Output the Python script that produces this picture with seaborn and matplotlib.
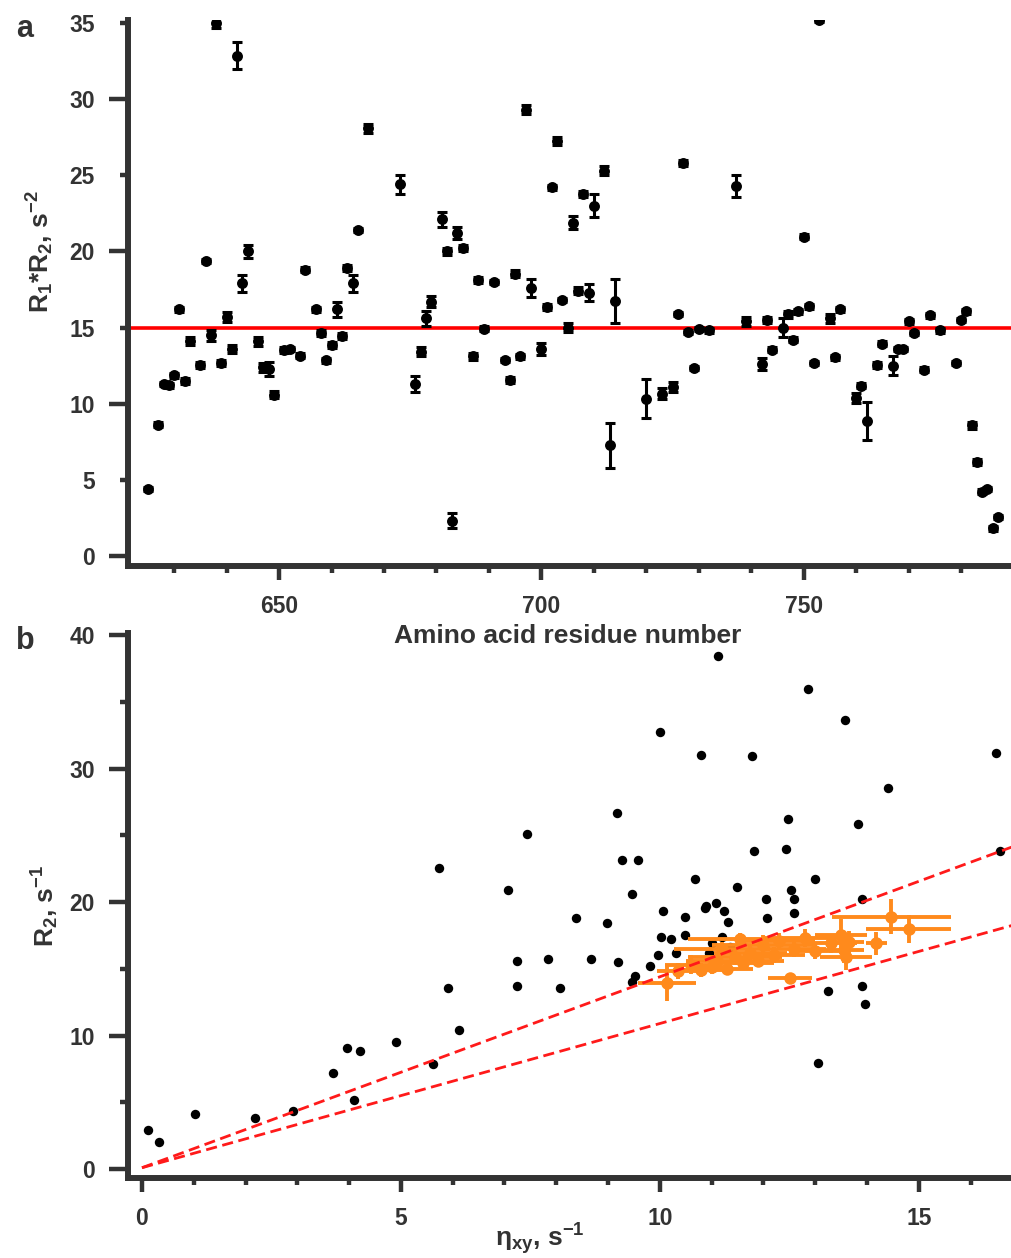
import numpy as np
import pandas as pd
import matplotlib
matplotlib.use("Agg")
import matplotlib.pyplot as plt
import seaborn as sns
from matplotlib.ticker import FixedLocator, FuncFormatter

# ---------------- Panel a data ----------------
residue = [625, 627, 628, 629, 630, 631, 632, 633, 635, 636, 637, 638, 639, 640, 641,
           642, 643, 644, 646, 647, 648, 649, 651, 652, 654, 655, 657, 658, 659, 660,
           661, 662, 663, 664, 665, 667, 673, 676, 677, 678, 679, 681, 682, 683, 684,
           685, 687, 688, 689, 691, 693, 694, 695, 696, 697, 698, 700, 701, 702, 703,
           704, 705, 706, 707, 708, 709, 710, 712, 713, 714, 720, 723, 725, 726, 727,
           728, 729, 730, 732, 737, 739, 742, 743, 744, 746, 747, 748, 749, 750, 751,
           752, 753, 755, 756, 757, 760, 761, 762, 764, 765, 767, 768, 769, 770, 771,
           773, 774, 776, 779, 780, 781, 782, 783, 784, 785, 786, 787]
r1r2 = [4.41, 8.62, 11.3, 11.2, 11.86, 16.2, 11.47, 14.1, 12.57, 19.36, 14.5, 35.0, 12.7, 15.7, 13.6,
        32.85, 17.9, 20.0, 14.1, 12.4, 12.3, 10.6, 13.55, 13.6, 13.16, 18.8, 16.2, 14.65, 12.85, 13.86,
        16.2, 14.43, 18.9, 17.9, 21.4, 28.1, 24.4, 11.3, 13.4, 15.6, 16.7, 22.1, 20.0, 2.32, 21.2,
        20.25, 13.1, 18.1, 14.93, 18.0, 12.87, 11.58, 18.55, 13.1, 29.3, 17.6, 13.6, 16.36, 24.2, 27.25,
        16.8, 14.98, 21.9, 17.43, 23.75, 17.3, 23.0, 25.3, 7.26, 16.73, 10.33, 10.66, 11.1, 15.9, 25.8,
        14.7, 12.35, 14.9, 14.82, 24.3, 15.4, 12.6, 15.5, 13.55, 15.0, 15.86, 14.2, 16.07, 20.97, 16.4,
        12.67, 35.2, 15.6, 13.05, 16.2, 10.37, 11.18, 8.84, 12.57, 13.95, 12.5, 13.6, 13.6, 15.4, 14.65,
        12.24, 15.8, 14.82, 12.67, 15.5, 16.07, 8.57, 6.16, 4.23, 4.39, 1.82, 2.55]
r1r2_err = [0.15, 0.15, 0.15, 0.15, 0.15, 0.15, 0.2, 0.25, 0.2, 0.15, 0.35, 0.3, 0.2, 0.35, 0.25,
            0.9, 0.55, 0.4, 0.3, 0.3, 0.45, 0.25, 0.2, 0.15, 0.15, 0.15, 0.15, 0.2, 0.15, 0.2,
            0.5, 0.2, 0.2, 0.55, 0.15, 0.3, 0.6, 0.5, 0.3, 0.5, 0.35, 0.5, 0.25, 0.5, 0.4,
            0.2, 0.2, 0.2, 0.15, 0.15, 0.15, 0.2, 0.2, 0.15, 0.3, 0.6, 0.4, 0.2, 0.15, 0.25,
            0.15, 0.3, 0.4, 0.25, 0.2, 0.55, 0.75, 0.3, 1.48, 1.45, 1.3, 0.35, 0.35, 0.15, 0.2,
            0.15, 0.15, 0.15, 0.15, 0.7, 0.3, 0.4, 0.2, 0.15, 0.6, 0.2, 0.15, 0.15, 0.15, 0.15,
            0.15, 0.15, 0.3, 0.15, 0.15, 0.3, 0.15, 1.25, 0.2, 0.15, 0.6, 0.15, 0.15, 0.15, 0.15,
            0.15, 0.15, 0.15, 0.15, 0.15, 0.15, 0.2, 0.2, 0.15, 0.15, 0.15, 0.15]
ref_level = 15.0

# ---------------- Panel b data ----------------
eta_all = [0.12, 0.33, 1.02, 2.18, 2.91, 3.69, 3.95, 4.21, 4.10, 4.90, 5.62, 6.13, 5.90, 5.73,
           7.25, 7.25, 7.84, 8.07, 8.68, 9.20, 9.47, 9.52, 9.81, 9.96, 10.02, 10.21, 10.48, 10.31,
           10.95, 11.0, 11.2, 11.35, 13.24, 13.9, 13.97, 13.06, 11.12, 12.86, 13.58, 10.01, 10.80,
           11.78, 16.49, 14.4, 9.17, 12.48, 13.82, 7.44, 11.81, 12.43, 16.57, 9.26, 9.58, 7.06,
           9.47, 10.68, 13.0, 11.49, 12.54, 12.59, 12.05, 13.9, 8.39, 8.97, 10.07, 10.48, 10.89,
           10.88, 11.09, 11.24, 11.32, 12.07, 12.59]
r2_all = [2.9, 2.0, 4.14, 3.8, 4.34, 7.17, 9.09, 8.86, 5.14, 9.54, 7.84, 10.44, 13.58, 22.57,
          15.6, 13.7, 15.7, 13.58, 15.7, 15.48, 14.03, 14.48, 15.2, 16.0, 17.4, 17.2, 17.5, 16.16,
          16.2, 16.95, 17.36, 16.65, 13.36, 13.7, 12.36, 7.96, 38.45, 35.96, 33.63, 32.71, 31.03,
          30.94, 31.14, 28.56, 26.64, 26.19, 25.87, 25.07, 23.84, 23.95, 23.84, 23.15, 23.15, 20.9,
          20.58, 21.7, 21.7, 21.12, 20.9, 20.22, 20.22, 20.22, 18.78, 18.45, 19.33, 18.9, 19.7,
          19.53, 19.9, 19.33, 18.52, 18.78, 19.2]

eta_core = [10.13, 10.35, 10.6, 10.8, 11.0, 11.1, 11.3, 11.45, 11.6, 11.75, 11.9, 12.0, 12.2,
            12.3, 12.51, 12.6, 12.8, 13.0, 13.3, 13.5, 13.55, 13.6, 13.65, 14.18, 14.47, 14.81,
            11.2, 11.54]
r2_core = [13.9, 14.8, 15.3, 14.9, 15.1, 15.6, 15.0, 15.9, 15.4, 16.2, 15.6, 16.8, 16.0,
           17.1, 14.3, 16.5, 17.3, 16.3, 16.9, 17.5, 16.4, 15.9, 17.0, 16.9, 18.9, 18.0,
           16.5, 17.2]
eta_core_err = [0.56, 0.4, 0.5, 0.45, 0.4, 0.6, 0.5, 0.9, 0.6, 0.7, 0.5, 1.0, 0.6,
                0.7, 0.43, 0.6, 0.8, 0.5, 0.5, 0.5, 0.4, 0.5, 0.3, 0.2, 1.15, 0.82,
                0.92, 1.0]
r2_core_err = [1.3, 0.6, 0.7, 0.5, 0.5, 0.6, 0.5, 0.6, 0.5, 0.6, 0.5, 0.7, 0.6,
               0.6, 0.4, 0.6, 0.7, 0.6, 0.7, 1.2, 1.0, 1.0, 0.8, 0.87, 1.3, 1.06,
               0.5, 0.5]
upper_slope = 1.43
lower_slope = 1.08
line_intercept = 0.1

# ---------------- Styling ----------------
sns.set_theme(style="ticks")
plt.rcParams["font.family"] = ["Liberation Sans", "DejaVu Sans"]
plt.rcParams["font.weight"] = "bold"
plt.rcParams["mathtext.fontset"] = "custom"
plt.rcParams["mathtext.bf"] = "Liberation Sans:bold"
plt.rcParams["mathtext.rm"] = "Liberation Sans:bold"
plt.rcParams["mathtext.default"] = "bf"
plt.rcParams["axes.unicode_minus"] = False

DARK = "#333333"
TICK_FS = 16.5
LAB_FS = 19
W, H = 1012, 1258
fig = plt.figure(figsize=(W / 100, H / 100), dpi=100)

axB = fig.add_axes([128 / W, 1 - 1178 / H, 1 - 128 / W, (1178 - 633) / H])
axA = fig.add_axes([128 / W, 1 - 566 / H, 1 - 128 / W, (566 - 20) / H])


def style_axes(ax):
    for s in ["top", "right"]:
        ax.spines[s].set_visible(False)
    for s in ["left", "bottom"]:
        ax.spines[s].set_linewidth(4.3)
        ax.spines[s].set_color(DARK)
        ax.spines[s].set_capstyle("projecting")
    ax.patch.set_alpha(0.0)
    ax.grid(False)


# ---------------- Panel a ----------------
style_axes(axA)
dfa = pd.DataFrame({"residue": residue, "value": r1r2, "err": r1r2_err})
axA.axhline(ref_level, color="#ff0000", lw=2.6, zorder=1.5)
axA.errorbar(dfa["residue"], dfa["value"], yerr=dfa["err"], fmt="none",
             ecolor="black", elinewidth=2.2, capsize=3.4, capthick=2.2, zorder=2)
sns.scatterplot(data=dfa, x="residue", y="value", ax=axA, color="black",
                s=62, marker="o", linewidth=0, zorder=3, legend=False)
axA.set_xlim(621.2, 789.7)
axA.set_ylim(-0.66, 35.2)

axA.xaxis.set_major_locator(FixedLocator([650, 700, 750]))
axA.xaxis.set_minor_locator(FixedLocator([v for v in range(630, 790, 10) if v % 50]))
axA.yaxis.set_major_locator(FixedLocator([0, 10, 20, 30]))
axA.yaxis.set_minor_locator(FixedLocator([5, 15, 25, 35]))
axA.yaxis.set_minor_formatter(FuncFormatter(lambda v, p: f"{v:g}"))
axA.tick_params(axis="x", which="major", length=10, width=3.2, color=DARK,
                labelsize=TICK_FS, labelcolor=DARK, pad=11, direction="out")
axA.tick_params(axis="x", which="minor", length=5, width=3.2, color=DARK, direction="out")
axA.tick_params(axis="y", which="major", length=14, width=3.2, color=DARK,
                labelsize=TICK_FS, labelcolor=DARK, pad=10, direction="out")
axA.tick_params(axis="y", which="minor", length=6, width=3.2, color=DARK,
                labelsize=TICK_FS, labelcolor=DARK, pad=18, direction="out")
for lab in axA.get_xticklabels() + axA.get_yticklabels() + axA.get_yticklabels(minor=True):
    lab.set_fontweight("bold")

axA.set_xlabel("Amino acid residue number", fontsize=LAB_FS, fontweight="bold", color=DARK)
axA.xaxis.set_label_coords(0.497, -0.128)
axA.xaxis.label.set_va("center")
axA.set_ylabel("R$_1$*R$_2$, s$^{-2}$", fontsize=LAB_FS, fontweight="bold", color=DARK)
axA.yaxis.set_label_coords(-0.0995, 0.575)
axA.yaxis.label.set_va("center")

# ---------------- Panel b ----------------
style_axes(axB)
dfb = pd.DataFrame({"eta": eta_all, "r2": r2_all})
sns.scatterplot(data=dfb, x="eta", y="r2", ax=axB, color="black", s=46,
                marker="o", linewidth=0, zorder=2, legend=False)
axB.errorbar(eta_core, r2_core, xerr=eta_core_err, yerr=r2_core_err, fmt="o",
             color="#ff8a1c", ecolor="#ff8a1c", ms=9, mew=0, elinewidth=2.8,
             capsize=3.6, capthick=2.8, zorder=3)
axB.set_xlim(-0.27, 16.8)
axB.set_ylim(-0.67, 40.15)
x_fit = np.array([0.0, axB.get_xlim()[1]])
axB.plot(x_fit, line_intercept + upper_slope * x_fit, color="#ff1a1a", lw=2.0,
         dashes=(4, 2), zorder=4)
axB.plot(x_fit, line_intercept + lower_slope * x_fit, color="#ff1a1a", lw=2.0,
         dashes=(4, 2), zorder=4)

axB.xaxis.set_major_locator(FixedLocator([0, 5, 10, 15]))
axB.xaxis.set_minor_locator(FixedLocator([v for v in range(0, 17) if v % 5]))
axB.yaxis.set_major_locator(FixedLocator([0, 10, 20, 30, 40]))
axB.yaxis.set_minor_locator(FixedLocator([5, 15, 25, 35]))
axB.tick_params(axis="x", which="major", length=10, width=3.2, color=DARK,
                labelsize=TICK_FS, labelcolor=DARK, pad=11, direction="out")
axB.tick_params(axis="x", which="minor", length=5, width=3.2, color=DARK, direction="out")
axB.tick_params(axis="y", which="major", length=14, width=3.2, color=DARK,
                labelsize=TICK_FS, labelcolor=DARK, pad=10, direction="out")
axB.tick_params(axis="y", which="minor", length=6, width=3.2, color=DARK, direction="out")
for lab in axB.get_xticklabels() + axB.get_yticklabels():
    lab.set_fontweight("bold")

axB.set_xlabel("η$_{xy}$, s$^{-1}$", fontsize=LAB_FS, fontweight="bold", color=DARK)
axB.xaxis.set_label_coords(0.466, -0.112)
axB.xaxis.label.set_va("center")
axB.set_ylabel("R$_2$, s$^{-1}$", fontsize=LAB_FS, fontweight="bold", color=DARK)
axB.yaxis.set_label_coords(-0.094, 0.499)
axB.yaxis.label.set_va("center")

# panel letters
fig.text(25 / W, 1 - 29 / H, "a", fontsize=22, fontweight="bold", color=DARK,
         ha="center", va="center")
fig.text(25 / W, 1 - 641 / H, "b", fontsize=22, fontweight="bold", color=DARK,
         ha="center", va="center")

fig.savefig("out.png", dpi=100, facecolor="white")
